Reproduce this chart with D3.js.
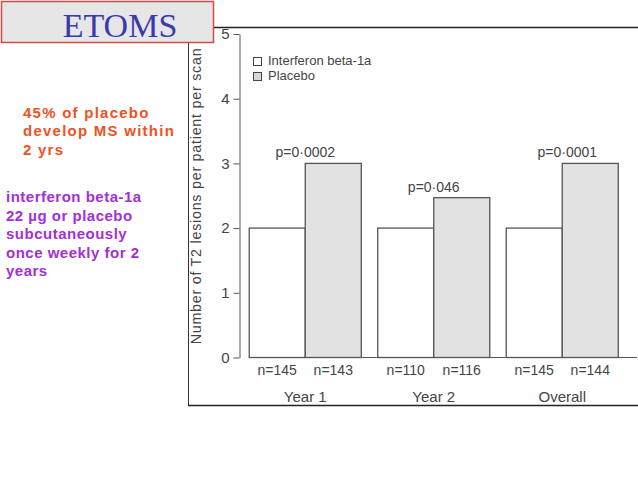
<!DOCTYPE html>
<html>
<head>
<meta charset="utf-8">
<script src="https://cdn.jsdelivr.net/npm/d3@7"></script>
<style>
  html, body { margin: 0; padding: 0; background: #fff; }
  svg { display: block; font-family: "Liberation Sans", Arial, sans-serif; }
</style>
</head>
<body>
<svg id="chart" width="638" height="479"></svg>
<script>
const groups = ['Year 1', 'Year 2', 'Overall'];
const seriesNames = ['Interferon beta-1a', 'Placebo'];
const interferon = [2, 2, 2];
const placebo = [3, 2.47, 3];
const nInterferon = ['n=145', 'n=110', 'n=145'];
const nPlacebo = ['n=143', 'n=116', 'n=144'];
const pValues = ['p=0\u00b70002', 'p=0\u00b7046', 'p=0\u00b70001'];
const yTicks = [0, 1, 2, 3, 4, 5];
const redNote = ['45% of placebo', 'develop MS within', '2 yrs'];
const purpleNote = ['interferon beta-1a', '22 \u00b5g or placebo', 'subcutaneously', 'once weekly for 2', 'years'];

const svg = d3.select('svg#chart');
const ink = '#444';

// slide frame around the pasted figure
svg.append('line').attr('x1', 214).attr('x2', 638).attr('y1', 27.5).attr('y2', 27.5)
  .attr('stroke', '#222').attr('stroke-width', 1.5);
svg.append('line').attr('x1', 188.5).attr('x2', 188.5).attr('y1', 43).attr('y2', 406)
  .attr('stroke', '#333').attr('stroke-width', 1);
svg.append('line').attr('x1', 188).attr('x2', 638).attr('y1', 405.5).attr('y2', 405.5)
  .attr('stroke', '#222').attr('stroke-width', 1.5);

// title box
svg.append('rect').attr('x', 1.5).attr('y', 1.5).attr('width', 212).attr('height', 41)
  .attr('fill', '#e6e6e6').attr('stroke', '#d24a4a').attr('stroke-width', 1.5);
svg.append('text').attr('x', 120).attr('y', 37).attr('text-anchor', 'middle')
  .style('font-family', '"Liberation Serif", "Times New Roman", serif')
  .style('font-size', '34px').attr('fill', '#3a3ab0').text('ETOMS');

// side notes
svg.append('g').selectAll('text').data(redNote).enter().append('text')
  .attr('x', 23).attr('y', (d, i) => 118 + i * 18.3)
  .attr('fill', '#f0521f').style('font-weight', 'bold').style('font-size', '15px')
  .style('letter-spacing', '1.25px').text(d => d);

svg.append('g').selectAll('text').data(purpleNote).enter().append('text')
  .attr('x', 6).attr('y', (d, i) => 202 + i * 18.6)
  .attr('fill', '#a32fd8').style('font-weight', 'bold').style('font-size', '15px')
  .style('letter-spacing', '0.5px').text(d => d);

// scales
const x = d3.scaleBand().domain(groups).range([241, 626.5])
  .paddingInner(0.128).paddingOuter(0.064);
const xs = d3.scaleBand().domain(seriesNames).range([0, x.bandwidth()]);
const y = d3.scaleLinear().domain([0, 5]).range([357.5, 34]);

// y axis
const yAxis = svg.append('g').attr('transform', 'translate(239.5,0)')
  .call(d3.axisLeft(y).tickValues(yTicks).tickFormat(d3.format('d'))
    .tickSize(6).tickPadding(4).tickSizeOuter(0));
yAxis.select('.domain').attr('stroke', '#555');
yAxis.selectAll('.tick line').attr('stroke', '#555');
yAxis.selectAll('.tick text').attr('fill', ink).style('font-size', '15px');

svg.append('text')
  .attr('transform', 'translate(201,196) rotate(-90)')
  .attr('text-anchor', 'middle').attr('fill', ink).style('font-size', '14.3px')
  .style('letter-spacing', '0.75px')
  .text('Number of T2 lesions per patient per scan');

// baseline
svg.append('line').attr('x1', x(groups[0])).attr('x2', 637)
  .attr('y1', y(0)).attr('y2', y(0)).attr('stroke', '#555').attr('stroke-width', 1);

// bars
const rows = groups.map((g, i) => [
  {group: g, series: seriesNames[0], value: interferon[i], n: nInterferon[i]},
  {group: g, series: seriesNames[1], value: placebo[i], n: nPlacebo[i]}
]).flat();

svg.append('g').selectAll('rect').data(rows).enter().append('rect')
  .attr('x', d => x(d.group) + xs(d.series))
  .attr('y', d => y(d.value))
  .attr('width', xs.bandwidth())
  .attr('height', d => y(0) - y(d.value))
  .attr('fill', d => d.series === seriesNames[1] ? '#e2e2e2' : '#fff')
  .attr('stroke', '#555').attr('stroke-width', 1.3);

// n labels
svg.append('g').selectAll('text').data(rows).enter().append('text')
  .attr('x', d => x(d.group) + xs(d.series) + xs.bandwidth() / 2)
  .attr('y', 375).attr('text-anchor', 'middle').attr('fill', ink)
  .style('font-size', '14px').text(d => d.n);

// group labels
svg.append('g').selectAll('text').data(groups).enter().append('text')
  .attr('x', d => x(d) + x.bandwidth() / 2).attr('y', 402)
  .attr('text-anchor', 'middle').attr('fill', ink).style('font-size', '15px')
  .text(d => d);

// p values
svg.append('g').selectAll('text').data(groups).enter().append('text')
  .attr('x', (d, i) => x(d) + x.bandwidth() / 2 + (i === 2 ? 5 : 0))
  .attr('y', (d, i) => y(Math.max(interferon[i], placebo[i])) - 6)
  .attr('text-anchor', 'middle').attr('fill', ink).style('font-size', '14px')
  .text((d, i) => pValues[i]);

// legend
const legend = svg.append('g').selectAll('g').data(seriesNames).enter().append('g')
  .attr('transform', (d, i) => `translate(253.5,${57.5 + i * 15})`);
legend.append('rect').attr('width', 8).attr('height', 8)
  .attr('fill', (d, i) => i === 1 ? '#d8d8d8' : '#fff').attr('stroke', '#444');
legend.append('text').attr('x', 14.5).attr('y', 7.5).attr('fill', ink)
  .style('font-size', '13px').text(d => d);
</script>
</body>
</html>
